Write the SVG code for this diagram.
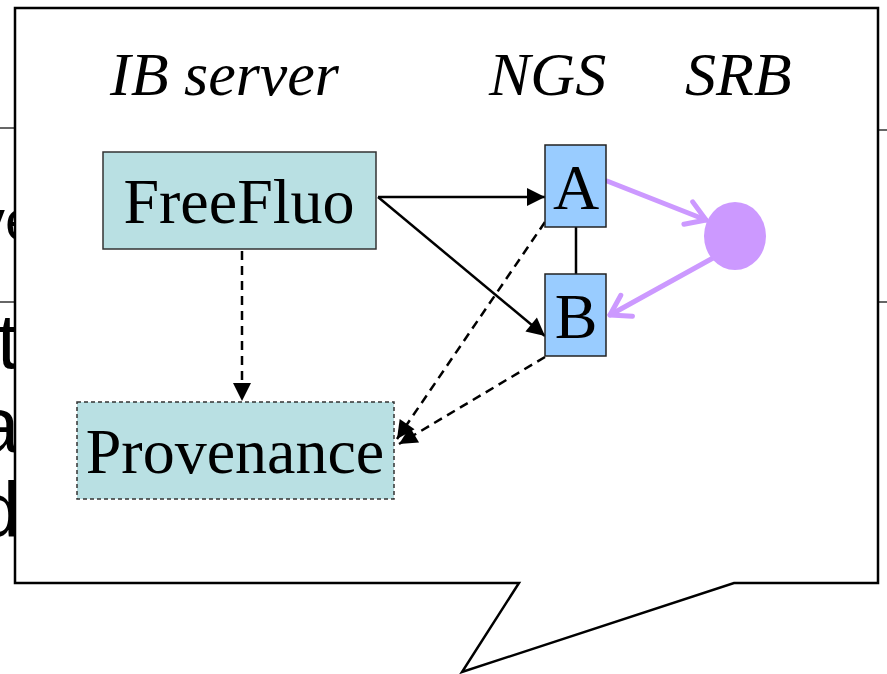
<svg xmlns="http://www.w3.org/2000/svg" width="887" height="674" viewBox="0 0 887 674">
<style>
.serif{font-family:"Liberation Serif","Times New Roman",serif;fill:#000}
.hdr{font-size:62px;font-style:italic}
.lbl{font-size:64px;text-anchor:middle}
.bg{font-family:"Liberation Sans",Arial,sans-serif;fill:#000}
.bgline{stroke:#000;stroke-width:1.2}
.box{fill:#b9e0e3;stroke:#333;stroke-width:1.5}
.dbox{fill:#b9e0e3;stroke:#333;stroke-width:1.5;stroke-dasharray:4,3}
.nbox{fill:#99ccff;stroke:#222;stroke-width:1.5}
.solid{stroke:#000;stroke-width:2.5;fill:none}
.dash{stroke:#000;stroke-width:2.5;fill:none;stroke-dasharray:9,6}
.purple{stroke:#cc99ff;stroke-width:5;fill:none;stroke-linecap:round}
</style>
<defs>
<marker id="ah" markerUnits="userSpaceOnUse" markerWidth="22" markerHeight="22" viewBox="-20 -11 22 22" refX="0" refY="0" orient="auto">
<path d="M-18,-9 L0,0 L-18,9 Z" fill="#000"/>
</marker>
<marker id="ph" markerUnits="userSpaceOnUse" markerWidth="34" markerHeight="34" viewBox="-26 -17 34 34" refX="0" refY="0" orient="auto">
<path d="M-19,-12 L0,0 L-19,12" fill="none" stroke="#cc99ff" stroke-width="5" stroke-linecap="round" stroke-linejoin="round"/>
</marker>
</defs>
<rect x="0" y="0" width="887" height="674" fill="#fff"/>
<g id="background">
<line class="bgline" x1="0" y1="128" x2="20" y2="128"/>
<line class="bgline" x1="870" y1="130" x2="887" y2="130"/>
<line class="bgline" x1="0" y1="302" x2="20" y2="302"/>
<line class="bgline" x1="870" y1="302" x2="887" y2="302"/>
<text class="bg" x="-24" y="240" font-size="58">ve</text>
<text class="bg" x="-3" y="368" font-size="78">t</text>
<text class="bg" x="-24" y="452" font-size="78">a</text>
<text class="bg" x="-23" y="537" font-size="78">d</text>
</g>
<g id="callout">
<path d="M15,8 H878 V583 H734 L462,672 L519,583 H15 Z" fill="#fff" stroke="#000" stroke-width="2.5" stroke-linejoin="miter"/>
</g>
<g id="headers">
<text class="serif hdr" x="110" y="95">IB server</text>
<text class="serif hdr" x="489" y="95">NGS</text>
<text class="serif hdr" x="685" y="95">SRB</text>
</g>
<g id="connectors">
<line class="solid" x1="378" y1="197" x2="545" y2="197" marker-end="url(#ah)"/>
<line class="solid" x1="378" y1="197" x2="545" y2="336" marker-end="url(#ah)"/>
<line class="dash" x1="242" y1="251" x2="242" y2="401" marker-end="url(#ah)"/>
<line class="dash" x1="545" y1="222" x2="397" y2="439" marker-end="url(#ah)"/>
<line class="dash" x1="545" y1="357" x2="399" y2="444" marker-end="url(#ah)"/>
<line class="solid" x1="576" y1="227" x2="576" y2="274"/>
<line class="purple" x1="607" y1="181" x2="706" y2="220" marker-end="url(#ph)"/>
<line class="purple" x1="713" y1="258" x2="610" y2="315" marker-end="url(#ph)"/>
</g>
<g id="freefluo">
<rect class="box" x="103" y="152" width="273" height="97"/>
<text class="serif lbl" x="239" y="223">FreeFluo</text>
</g>
<g id="provenance">
<rect class="dbox" x="77" y="402" width="317" height="97"/>
<text class="serif lbl" x="235" y="473">Provenance</text>
</g>
<g id="nodeA">
<rect class="nbox" x="545" y="145" width="61" height="82"/>
<text class="serif lbl" x="576" y="209">A</text>
</g>
<g id="nodeB">
<rect class="nbox" x="545" y="274" width="61" height="82"/>
<text class="serif lbl" x="576" y="338">B</text>
</g>
<g id="srb">
<ellipse cx="735" cy="236" rx="31" ry="34" fill="#cc99ff"/>
</g>
</svg>
